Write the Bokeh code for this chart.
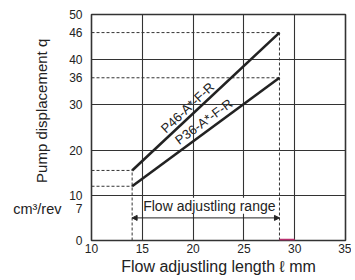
import math
from bokeh.plotting import figure
from bokeh.models import (FixedTicker, Range1d, Label, Arrow, NormalHead, LinearAxis)
from bokeh.embed import file_html
from bokeh.resources import INLINE

# ---- data ----
flow_len = [14, 28.5]            # flow adjusting length start/end (mm)
p46_q = [15.5, 46]               # P46-A*-F-R displacement (cm3/rev)
p36_q = [12, 36]                 # P36-A*-F-R displacement (cm3/rev)
range_arrow_y = 5
x_ticks = [10, 15, 20, 25, 30, 35]
y_ticks = [0, 7, 10, 20, 30, 36, 40, 46, 50]
unit_tick = [7]
x_grid = [15, 20, 25, 30]
y_grid = [10, 20, 30, 40]
highlight_x = [28.5, 30]

FONT = "Liberation Sans"
INK = "#222222"

p = figure(width=351, height=277, output_backend="svg", toolbar_location=None,
           x_range=Range1d(10, 35), y_range=Range1d(0, 50),
           min_border_left=91, min_border_right=6, min_border_top=14, min_border_bottom=37)
p.outline_line_color = "#333333"
p.outline_line_width = 1.6
p.background_fill_color = "white"

# second left axis: unit label at q = 7, carrying the y title
unit_axis = LinearAxis(ticker=FixedTicker(ticks=unit_tick),
                       major_label_overrides={unit_tick[0]: "cm\u00b3/rev"})
p.add_layout(unit_axis, "left")

p.xaxis.ticker = FixedTicker(ticks=x_ticks)
p.yaxis[0].ticker = FixedTicker(ticks=y_ticks)
p.xgrid.ticker = FixedTicker(ticks=x_grid)
p.ygrid.ticker = FixedTicker(ticks=y_grid)
for g in (p.xgrid, p.ygrid):
    g.grid_line_color = "#333333"
    g.grid_line_width = 1.1
    g.grid_line_alpha = 1.0

for ax in list(p.xaxis) + list(p.yaxis):
    ax.axis_line_color = None
    ax.major_tick_line_color = None
    ax.minor_tick_line_color = None
    ax.major_tick_out = 0
    ax.major_tick_in = 0
    ax.major_label_text_font = FONT
    ax.major_label_text_font_size = "12px"
    ax.major_label_text_color = INK
    ax.axis_label_text_font = FONT
    ax.axis_label_text_font_size = "15px"
    ax.axis_label_text_font_style = "normal"
    ax.axis_label_text_color = INK

p.yaxis[0].major_label_standoff = 9
unit_axis.major_label_standoff = 5
unit_axis.major_label_text_font_size = "14.5px"
unit_axis.axis_label = "\u00a0" * 8 + "Pump displacement q"
unit_axis.axis_label_standoff = -40

p.xaxis.major_label_standoff = 3
p.xaxis.axis_label = "Flow adjustling length \u2113 mm"
p.xaxis.axis_label_text_font_size = "16px"
p.xaxis.axis_label_standoff = 2

# dashed guide lines
xs = [[10, flow_len[1]], [10, flow_len[1]], [10, flow_len[0]], [10, flow_len[0]],
      [flow_len[0], flow_len[0]], [flow_len[1], flow_len[1]]]
ys = [[p46_q[1], p46_q[1]], [p36_q[1], p36_q[1]], [p46_q[0], p46_q[0]], [p36_q[0], p36_q[0]],
      [0, p46_q[0]], [0, p46_q[1]]]
p.multi_line(xs, ys, line_color="#333333", line_width=1, line_dash="3 2")

# main lines
p.line(flow_len, p46_q, line_color=INK, line_width=2.6)
p.line(flow_len, p36_q, line_color=INK, line_width=2.6)

# highlight on x axis
p.line(highlight_x, [0.15, 0.15], line_color="#b8306e", line_width=2)

# range arrow
p.add_layout(Arrow(start=NormalHead(size=5, line_color=INK, fill_color=INK, line_width=1),
                   end=NormalHead(size=5, line_color=INK, fill_color=INK, line_width=1),
                   x_start=flow_len[0], y_start=range_arrow_y,
                   x_end=flow_len[1], y_end=range_arrow_y,
                   line_color=INK, line_width=1))
p.add_layout(Label(x=21.6, y=7.7, text="Flow adjustling range", text_font=FONT,
                   text_font_size="14px", text_color=INK, text_align="center",
                   text_baseline="middle", background_fill_color="white",
                   background_fill_alpha=1.0))

# line labels
a46 = math.atan2(137.7, 147.4)
a36 = math.atan2(108.3, 147.4)
p.add_layout(Label(x=19.45, y=29.4, text="P46-A*-F-R", angle=a46, text_font=FONT,
                   text_font_size="13px", text_color=INK, text_align="center",
                   text_baseline="middle"))
p.add_layout(Label(x=21.05, y=26.3, text="P36-A*-F-R", angle=a36, text_font=FONT,
                   text_font_size="13px", text_color=INK, text_align="center",
                   text_baseline="middle"))

open("out.html", "w").write(file_html(p, INLINE))
